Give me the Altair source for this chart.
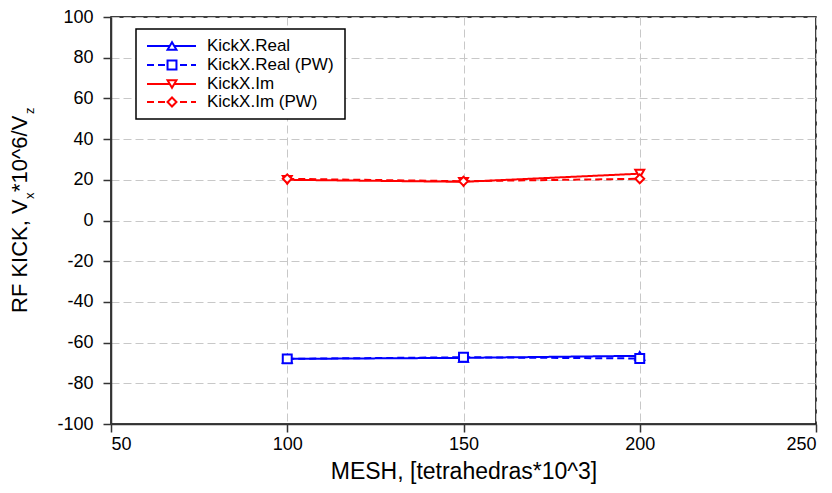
import altair as alt
import pandas as pd

mesh = [100, 150, 200]
kick_real = [-68, -67.5, -66.5]
kick_real_pw = [-68, -67.2, -67.8]
kick_im = [20, 19, 23]
kick_im_pw = [20.5, 19.3, 20.5]

series = ["KickX.Real", "KickX.Real (PW)", "KickX.Im", "KickX.Im (PW)"]
colors = ["#0000FF", "#0000FF", "#FF0000", "#FF0000"]
shapes = ["triangle-up", "square", "triangle-down", "diamond"]
dashes = [[1, 0], [7, 4], [1, 0], [7, 4]]

rows = []
for name, vals in zip(series, [kick_real, kick_real_pw, kick_im, kick_im_pw]):
    for m, v in zip(mesh, vals):
        rows.append({"mesh": m, "kick": v, "series": name})
df = pd.DataFrame(rows)

FONT = "Liberation Sans"

x_enc = alt.X("mesh:Q", scale=alt.Scale(domain=[50, 250], nice=False),
              axis=alt.Axis(values=[50, 100, 150, 200, 250], title="MESH, [tetrahedras*10^3]",
                            titleFontSize=23, titleFontWeight="normal", titlePadding=7,
                            labelFontSize=18, labelPadding=3, labelExpr="'' + datum.value"))
y_enc = alt.Y("kick:Q", scale=alt.Scale(domain=[-100, 100], nice=False),
              axis=alt.Axis(values=list(range(-100, 101, 20)), title=None,
                            labelFontSize=18, labelPadding=10, labelExpr="'' + datum.value"))
color_enc = alt.Color("series:N", scale=alt.Scale(domain=series, range=colors), legend=None)

base = alt.Chart(df).encode(x=x_enc, y=y_enc, color=color_enc)

lines = base.mark_line(strokeWidth=2).encode(
    strokeDash=alt.StrokeDash("series:N", scale=alt.Scale(domain=series, range=dashes), legend=None)
)
points = base.mark_point(fill="white", fillOpacity=1, opacity=1, strokeWidth=2, size=80).encode(
    shape=alt.Shape("series:N", scale=alt.Scale(domain=series, range=shapes), legend=None)
)

one = pd.DataFrame({"k": [0]})
layers = [lines, points]

# legend box
layers.append(alt.Chart(one).mark_rect(fill="white", stroke="black", strokeWidth=1.5).encode(
    x=alt.value(25), x2=alt.value(234), y=alt.value(12), y2=alt.value(102)))
row_y = [29, 48, 67, 85]
for name, c, s, d, ry in zip(series, colors, shapes, dashes, row_y):
    layers.append(alt.Chart(one).mark_rule(color=c, strokeWidth=2, strokeDash=d).encode(
        x=alt.value(36), x2=alt.value(85), y=alt.value(ry)))
    layers.append(alt.Chart(one).mark_point(shape=s, color=c, fill="white", fillOpacity=1, opacity=1,
                                            strokeWidth=2, size=80).encode(
        x=alt.value(61), y=alt.value(ry)))
    layers.append(alt.Chart(one).mark_text(text=name, align="left", baseline="middle", fontSize=17,
                                           font=FONT, color="black").encode(
        x=alt.value(96), y=alt.value(ry)))

# y-axis title with subscripts
bx = -84
sx = -77
pieces = [("RF KICK, V", 296, bx, 22), ("x", 182, sx, 13), ("*10^6/V", 175, bx, 22), ("z", 97, sx, 13)]
for t, yy, xx, fs in pieces:
    layers.append(alt.Chart(one).mark_text(text=t, angle=270, align="left", baseline="alphabetic",
                                           fontSize=fs, font=FONT, color="black").encode(
        x=alt.value(xx), y=alt.value(yy)))

chart = alt.layer(*layers).properties(
    width=705, height=407,
    autosize=alt.AutoSizeParams(type="none"),
    padding={"left": 103, "top": 9, "right": 8, "bottom": 61},
).configure_view(stroke="black", strokeWidth=1.5).configure_axis(
    labelFont=FONT, titleFont=FONT, labelColor="black", titleColor="black",
    domainColor="#333333", domainWidth=1.5, tickColor="#333333", tickSize=8, tickWidth=1.5,
    gridColor="#c8c8c8", gridDash=[8, 4], gridWidth=1, grid=True
)

chart.save("out.html", embed_options={"renderer": "svg", "actions": False})
